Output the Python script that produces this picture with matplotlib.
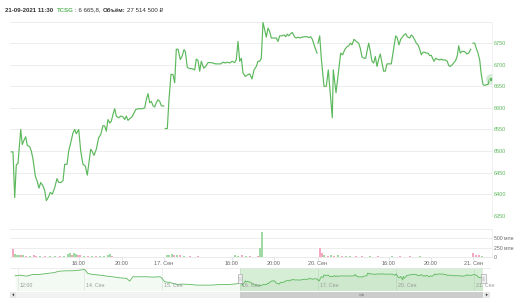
import matplotlib
matplotlib.use('Agg')
import matplotlib.pyplot as plt
import matplotlib.transforms as mtransforms
from matplotlib.patches import Rectangle, Polygon
import numpy as np

plt.rcParams['font.family'] = ['Liberation Sans', 'DejaVu Sans']

# ---------------- data ----------------
# ordinal trading-time positions (Highstock ordinal axis units) and prices
t_sep16 = [1.3, 3, 4.7, 6.3, 8, 10.7, 12.3, 14, 15.7, 17.3, 19.7, 21.3, 23, 25.3, 27.3,
           29, 30.7, 33, 34.7, 36.3, 38, 40.3, 42.3, 44.7, 47, 48.7, 50.7, 53, 54.7, 57,
           58.7, 60.7, 63, 64.7, 66.3, 68.7, 70.7, 73, 75.3, 77.3, 80.7, 82, 84, 86.3, 88.7,
           90.7, 93, 94.7, 96.3, 98, 99.7, 101.3, 103, 104.7, 106.3, 108.7, 110.7, 113, 114.7, 116.3,
           118, 119.7, 122, 124, 125.7, 128, 130.7, 132.3, 134.7, 136.3, 138, 139.7, 141.3, 143, 144.7,
           146.3, 148, 149.7, 151.3, 153.7]
p_sep16 = [6498, 6498, 6392, 6468, 6471, 6550, 6515, 6525, 6533, 6513, 6510, 6500, 6481, 6442, 6429,
           6414, 6427, 6419, 6408, 6385, 6391, 6404, 6400, 6415, 6436, 6427, 6427, 6431, 6469, 6469,
           6500, 6519, 6542, 6550, 6540, 6550, 6500, 6469, 6465, 6444, 6504, 6500, 6490, 6504, 6531,
           6538, 6559, 6558, 6546, 6573, 6565, 6569, 6585, 6598, 6581, 6577, 6581, 6579, 6573, 6581,
           6571, 6575, 6579, 6588, 6596, 6598, 6598, 6598, 6600, 6619, 6633, 6612, 6615, 6605, 6602,
           6612, 6619, 6615, 6605, 6604]

t_sep17 = [155.3, 157.3, 159, 161, 163, 164.7, 166.3, 168, 170.3, 172, 174, 175.3, 177.3, 179.7, 182,
           184.7, 186.3, 188, 189.7, 191.3, 193.7, 195.7, 198, 200.7, 203, 205.3, 208, 210.7, 213, 215.3,
           217.3, 219.7, 222, 224.7, 226.3, 228, 229.7, 231.3, 233, 235.3, 238, 239.7, 242, 244, 246.3,
           248, 249.7, 251.3, 253, 254.7, 256.3, 258, 259.7, 261.3, 263.7, 266.3, 268, 269.7, 272, 274,
           275.7, 277.3, 278.7, 280.7, 282.3, 284.7, 286.3, 288, 289.7, 292, 294.7, 297, 299, 300.7, 302.3,
           304.7, 307]
p_sep17 = [6552, 6552, 6620, 6678, 6677, 6658, 6736, 6736, 6712, 6719, 6735, 6731, 6694, 6691, 6691,
           6688, 6713, 6710, 6685, 6708, 6692, 6696, 6705, 6705, 6704, 6702, 6702, 6702, 6706, 6704,
           6706, 6704, 6708, 6705, 6712, 6754, 6708, 6715, 6681, 6673, 6677, 6679, 6667, 6688, 6696,
           6708, 6708, 6715, 6798, 6781, 6764, 6785, 6777, 6762, 6762, 6762, 6754, 6767, 6767, 6769,
           6765, 6771, 6767, 6772, 6775, 6764, 6762, 6764, 6762, 6764, 6765, 6765, 6763, 6765, 6759,
           6742, 6727]

t_sep20 = [308, 309.7, 311.3, 314, 316.3, 318.3, 322.3, 323.3, 326, 328.3, 330.7, 332.7, 334.7, 336.7, 338.7,
           340.3, 342, 344, 346.3, 348.7, 350.3, 352, 354, 355.7, 357.3, 358.7, 360.3, 362, 363.7, 365.3,
           367, 368.7, 370.3, 372, 373.7, 375.3, 377, 379, 381.3, 383.7, 385.7, 387.3, 389, 390.7, 392.3,
           394, 395.7, 397.3, 399.7, 401.3, 403, 404.7, 406.3, 408, 409.7, 411.3, 413, 414.7, 416.3, 418,
           419.7, 421.3, 423, 424, 425.7, 427.3, 429.7, 431.3, 433, 435.3, 437.3, 438.7, 440.3, 442.3, 444,
           445.7, 447.3, 448.7, 450.3, 452, 453.7, 455.3, 457, 458.7, 460.7]
p_sep20 = [6750, 6767, 6715, 6650, 6650, 6688, 6577, 6688, 6635, 6680, 6727, 6723, 6735, 6741, 6744,
           6750, 6746, 6759, 6754, 6750, 6738, 6718, 6715, 6715, 6735, 6750, 6731, 6708, 6704, 6719,
           6696, 6713, 6725, 6704, 6685, 6685, 6702, 6702, 6702, 6738, 6767, 6762, 6746, 6759, 6764,
           6769, 6772, 6765, 6762, 6769, 6765, 6758, 6750, 6746, 6736, 6723, 6729, 6729, 6727, 6727,
           6721, 6722, 6713, 6708, 6715, 6713, 6711, 6713, 6711, 6711, 6708, 6698, 6696, 6700, 6705,
           6710, 6721, 6744, 6727, 6731, 6731, 6729, 6725, 6727, 6736]

t_sep21 = [463, 464.7, 466.3, 468, 469.7, 471.3, 473, 474.7, 476.3, 478, 479.7, 480.7]
p_sep21 = [6750, 6750, 6738, 6727, 6711, 6677, 6654, 6652, 6654, 6654, 6669, 6665.8]

# volume (million RUB), up = green, down = pink
vol_t = [3, 5, 7, 9, 11, 13, 16, 20, 24, 26, 30, 35, 40, 45, 50, 54, 58, 60, 62, 64, 66, 68, 70,
         74, 78, 82, 86, 90, 94, 98, 100, 102,
         157, 159, 162, 164, 167, 170, 174, 180, 188,
         225, 228, 232, 236, 240, 248, 250, 252,
         310, 312, 314, 318, 321, 324, 328, 332, 336, 340, 346, 352, 360, 368, 382, 390, 400, 410,
         463, 466, 469, 472]
vol_mln = [220, 70, 60, 50, 40, 35, 30, 25, 40, 30, 25, 30, 20, 25, 20, 25, 80, 90, 60, 100, 70, 50, 35,
           30, 25, 30, 25, 30, 30, 40, 70, 20,
           60, 40, 80, 50, 40, 35, 25, 20, 25,
           60, 30, 45, 25, 20, 30, 230, 670,
           230, 100, 60, 30, 40, 25, 50, 20, 25, 20, 20, 25, 20, 20, 25, 20, 20, 20,
           90, 40, 50, 25]
vol_up = [0, 1, 1, 1, 0, 1, 0, 1, 0, 0, 1, 0, 1, 1, 0, 1, 1, 1, 0, 1, 1, 0, 0,
          1, 0, 1, 0, 1, 1, 1, 1, 0,
          1, 1, 1, 0, 1, 0, 1, 0, 0,
          1, 1, 0, 1, 0, 0, 1, 1,
          0, 0, 1, 0, 1, 0, 1, 0, 1, 1, 0, 0, 1, 0, 1, 0, 0, 1,
          0, 0, 0, 1]

# navigator history before 16 Sep (same ordinal units)
nav_hist_t = [-445, -436, -422, -410, -396, -382, -370, -356, -343, -331, -317, -307,
              -301, -291, -277, -263, -252, -238, -224, -218, -212, -198, -184, -172, -158, -155,
              -149, -139, -125, -113, -99, -85, -73, -59, -46, -34, -20, -6]
nav_hist_p = [6711, 6732, 6700, 6754, 6754, 6786, 6807, 6860, 6871, 6871, 6892, 6914,
              6786, 6754, 6732, 6700, 6679, 6647, 6626, 6540, 6679, 6679, 6679, 6668, 6679, 6647,
              6519, 6498, 6434, 6444, 6434, 6412, 6412, 6412, 6423, 6434, 6434, 6455]

price_ticks = [6350, 6400, 6450, 6500, 6550, 6600, 6650, 6700, 6750, 6800]
vol_ticks = [0, 250, 500, 750]
vol_tick_labels = ['0', '250 млн', '500 млн', '']
x_ticks = [69, 112, 154, 222, 264, 308, 379, 421, 463]
x_tick_labels = ['16:00', '20:00', '17. Сен', '16:00', '20:00', '20. Сен', '16:00', '20:00', '21. Сен']
nav_ticks = [-440, -308, -154, 0, 154, 308, 463]
nav_tick_labels = ['12:00', '14. Сен', '15. Сен', '16. Сен', '17. Сен', '20. Сен', '21. Сен']

header_date = '21-09-2021 11:30'
header_ticker = 'TCSG'
header_price = ': 6 665,8,'
header_vol_label = 'Объём:'
header_vol = '27 514 500 ₽'

# ---------------- layout ----------------
W, H = 525, 303
fig = plt.figure(figsize=(W / 100, H / 100), dpi=100)
fig.patch.set_facecolor('white')

def fx(px):
    return px / W

def fy(py):
    return 1 - py / H

GREEN = '#5cb85c'
GRID = '#ededed'
LBL = '#666666'
FS = 4.0

x_view = (0, 482)

# main price pane
ax = fig.add_axes([fx(10), fy(215.7), fx(492) - fx(10), fy(21.6) - fy(215.7)])
for tt, pp in [(t_sep16, p_sep16), (t_sep17, p_sep17), (t_sep20, p_sep20), (t_sep21, p_sep21)]:
    ax.plot(tt, pp, color=GREEN, lw=0.85, solid_joinstyle='round')
ax.plot(t_sep21[-1], p_sep21[-1], 'o', ms=8, color=GREEN, alpha=0.25, mew=0)
ax.plot(t_sep21[-1], p_sep21[-1], 'o', ms=3.2, mfc=GREEN, mec='white', mew=0.4)
ax.set_xlim(*x_view)
ax.set_ylim(6350, 6800)
ax.set_yticks(price_ticks)
ax.set_yticklabels([str(v) if v < 6800 else '' for v in price_ticks])
ax.yaxis.tick_right()
ax.tick_params(axis='y', length=0, pad=1.5, labelsize=FS, labelcolor=GREEN)
ax.set_xticks([])
ax.grid(axis='y', color=GRID, lw=0.7)
ax.set_axisbelow(True)
for s in ['top', 'left', 'bottom']:
    ax.spines[s].set_visible(False)
ax.spines['right'].set_color('#eeeeee')
ax.spines['right'].set_linewidth(0.6)

# volume pane
axv = fig.add_axes([fx(10), fy(256.7), fx(492) - fx(10), fy(229.3) - fy(256.7)])
vcol = ['#9fdaa5' if u else '#f4a8c2' for u in vol_up]
axv.bar(vol_t, vol_mln, width=1.8, color=vcol, lw=0)
axv.set_xlim(*x_view)
axv.set_ylim(0, 750)
axv.set_yticks(vol_ticks)
axv.set_yticklabels(vol_tick_labels)
axv.yaxis.tick_right()
axv.tick_params(axis='y', length=0, pad=1.5, labelsize=FS - 0.3, labelcolor=LBL)
axv.set_xticks(x_ticks)
axv.set_xticklabels(x_tick_labels)
axv.tick_params(axis='x', length=2.2, width=0.5, color='#ccd6eb', pad=1.0, labelsize=FS, labelcolor=LBL)
axv.grid(axis='y', color=GRID, lw=0.7)
axv.set_axisbelow(True)
for s in ['top', 'left']:
    axv.spines[s].set_visible(False)
axv.spines['bottom'].set_color('#e6e6e6')
axv.spines['bottom'].set_linewidth(0.6)
axv.spines['right'].set_color('#eeeeee')
axv.spines['right'].set_linewidth(0.6)

# navigator
nav_scale_left = -455
nav_scale_right = 495
axn = fig.add_axes([fx(10), fy(290.5), fx(490) - fx(10), fy(268) - fy(290.5)])
nav_t = nav_hist_t + t_sep16 + t_sep17 + t_sep20 + t_sep21
nav_p = nav_hist_p + p_sep16 + p_sep17 + p_sep20 + p_sep21
axn.set_xlim(nav_scale_left, nav_scale_right)
axn.set_ylim(6240, 6960)
axn.fill_between(nav_t, nav_p, 6240, color=GREEN, alpha=0.07, lw=0)
axn.plot(nav_t, nav_p, color=GREEN, lw=0.6)
axn.axvspan(x_view[0], x_view[1], color=GREEN, alpha=0.25, lw=0)
blend = mtransforms.blended_transform_factory(axn.transData, axn.transAxes)
for tk, lab in zip(nav_ticks, nav_tick_labels):
    axn.axvline(tk, color='#e8e8e8', lw=0.5, zorder=0)
    axn.text(tk + 4, 0.22, lab, transform=blend, fontsize=FS - 0.2, color='#999999',
             ha='left', va='center')
axn.set_xticks([])
axn.set_yticks([])
for s in ['left', 'right', 'bottom']:
    axn.spines[s].set_visible(False)
axn.spines['top'].set_color('#e6e6e6')
axn.spines['top'].set_linewidth(0.5)
# navigator handles
for hx in x_view:
    axn.add_patch(Rectangle((hx - 4.5, 0.32), 9, 0.4, transform=blend, facecolor='#f2f2f2',
                            edgecolor='#999999', lw=0.4, zorder=5))
    for dx in (-1.5, 1.5):
        axn.plot([hx + dx, hx + dx], [0.42, 0.62], transform=blend, color='#999999', lw=0.3, zorder=6)

# scrollbar
axs = fig.add_axes([fx(10), fy(297.5), fx(490) - fx(10), fy(292) - fy(297.5)])
axs.set_xlim(nav_scale_left, nav_scale_right)
axs.set_ylim(0, 1)
axs.axis('off')
axs.add_patch(Rectangle((0, 0), 1, 1, transform=axs.transAxes, facecolor='#f2f2f2', lw=0))
axs.add_patch(Rectangle((x_view[0], 0), x_view[1] - x_view[0], 1, facecolor='#cccccc', lw=0))
bt = axs.transAxes
axs.add_patch(Rectangle((0, 0), 0.013, 1, transform=bt, facecolor='#e6e6e6', lw=0))
axs.add_patch(Rectangle((0.987, 0), 0.013, 1, transform=bt, facecolor='#e6e6e6', lw=0))
axs.add_patch(Polygon([[0.0045, 0.5], [0.0085, 0.75], [0.0085, 0.25]], closed=True, transform=bt,
                      facecolor='#333333', lw=0))
axs.add_patch(Polygon([[0.9955, 0.5], [0.9915, 0.75], [0.9915, 0.25]], closed=True, transform=bt,
                      facecolor='#333333', lw=0))
mid = (x_view[0] + x_view[1]) / 2
for dx in (-2.5, 0, 2.5):
    axs.plot([mid + dx, mid + dx], [0.3, 0.7], color='#333333', lw=0.3)

# header
renderer = fig.canvas.get_renderer()
pieces = [(header_date, 'bold', '#333333', 4.0),
          (header_ticker, 'bold', GREEN, 1.0),
          (header_price, 'normal', '#333333', 2.5),
          (header_vol_label, 'bold', '#333333', 1.5),
          (header_vol, 'normal', '#333333', 0)]
xpos = 5.0
for s, w, c, gap in pieces:
    txt = fig.text(fx(xpos), fy(10), s, fontsize=4.4, fontweight=w, color=c, ha='left', va='center')
    bb = txt.get_window_extent(renderer)
    xpos = bb.x1 + gap

fig.savefig('out.png', dpi=100, facecolor='white')
